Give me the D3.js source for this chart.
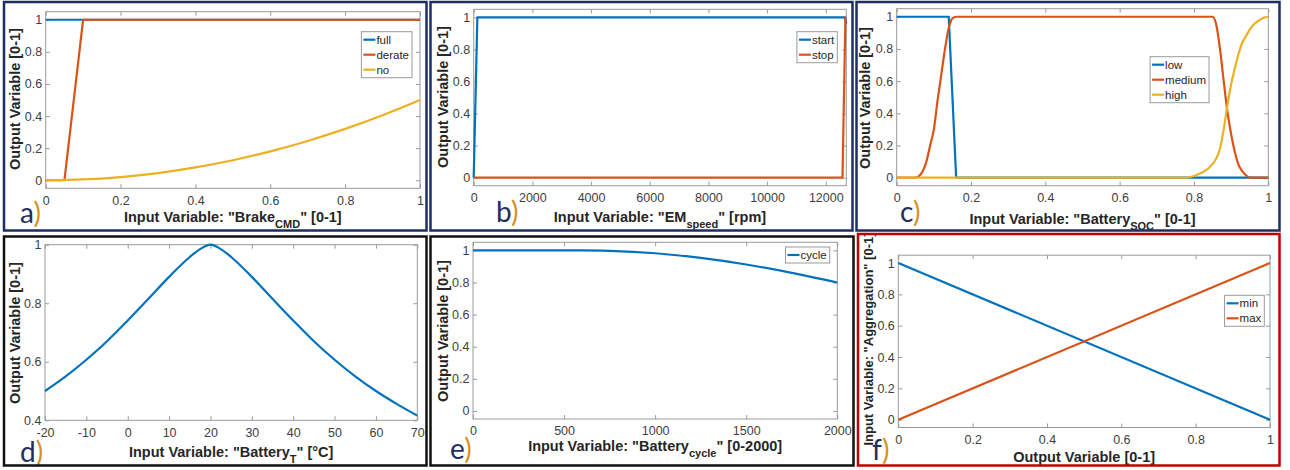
<!DOCTYPE html>
<html>
<head>
<meta charset="utf-8">
<script src="https://cdn.jsdelivr.net/npm/d3@7/dist/d3.min.js"></script>
<style>
  body { margin: 0; background: #fff; }
  svg { display: block; font-family: "Liberation Sans", Arial, sans-serif; }
</style>
</head>
<body>
<div id="chart"></div>
<script>
// a) brake command membership functions
var brakeFullX = [0, 1];
var brakeFullY = [1, 1];
var brakeDerateX = [0, 0.05, 0.1, 1];
var brakeDerateY = [0, 0, 1, 1];
var brakeNoX = [0, 0.1, 0.2, 0.3, 0.4, 0.5, 0.6, 0.7, 0.8, 0.9, 1];
var brakeNoY = [0, 0.005, 0.02, 0.045, 0.08, 0.125, 0.18, 0.245, 0.32, 0.405, 0.5];

// b) EM speed
var emStartX = [0, 125, 12650, 12700];
var emStartY = [0, 1, 1, 0.96];
var emStopX = [0, 12570, 12670, 12700];
var emStopY = [0, 0, 1, 1];

// c) battery SOC
var socLowX = [0, 0.14, 0.16, 1];
var socLowY = [1, 1, 0, 0];
var socMedX = [0, 0.05, 0.06, 0.07, 0.08, 0.09, 0.1, 0.11, 0.12, 0.13, 0.14, 0.15, 0.16, 0.85, 0.86, 0.87, 0.88, 0.89, 0.9, 0.91, 0.92, 0.93, 0.94, 0.95, 1];
var socMedY = [0, 0, 0.01, 0.04, 0.1, 0.2, 0.3, 0.48, 0.64, 0.8, 0.93, 0.99, 1, 1, 0.95, 0.8, 0.6, 0.41, 0.27, 0.16, 0.08, 0.04, 0.015, 0, 0];
var socHighX = [0, 0.78, 0.8, 0.82, 0.84, 0.86, 0.87, 0.88, 0.89, 0.9, 0.91, 0.92, 0.93, 0.94, 0.95, 0.96, 0.97, 0.98, 0.99, 1];
var socHighY = [0, 0, 0.01, 0.03, 0.06, 0.12, 0.18, 0.3, 0.45, 0.58, 0.68, 0.77, 0.84, 0.88, 0.92, 0.95, 0.97, 0.985, 0.995, 1];

// d) battery temperature
var tempX = [-20, -15, -10, -5, 0, 5, 10, 15, 17.5, 20, 22.5, 25, 30, 35, 40, 45, 50, 55, 60, 65, 70];
var tempY = [0.5, 0.55, 0.607, 0.67, 0.741, 0.815, 0.89, 0.958, 0.985, 1, 0.985, 0.958, 0.89, 0.815, 0.741, 0.67, 0.607, 0.55, 0.5, 0.456, 0.416];

// e) battery cycles
var cycleX = [0, 250, 500, 600, 750, 1000, 1250, 1500, 1750, 2000];
var cycleY = [1, 1, 1, 1, 0.997, 0.982, 0.953, 0.912, 0.86, 0.8];

// f) aggregation
var aggMinX = [0, 1];
var aggMinY = [1, 0];
var aggMaxX = [0, 1];
var aggMaxY = [0, 1];

// tick labels
var ticksUnit = [0, 0.2, 0.4, 0.6, 0.8, 1];
var ticksRpm = [0, 2000, 4000, 6000, 8000, 10000, 12000];
var ticksTemp = [-20, -10, 0, 10, 20, 30, 40, 50, 60, 70];
var ticksTempY = [0.4, 0.6, 0.8, 1];
var ticksCycle = [0, 500, 1000, 1500, 2000];

var BLUE = "#0072BD", ORANGE = "#D95319", YELLOW = "#EDB120";
var NAVY = "#1c2f60", BLACK = "#111", RED = "#c00000";

function zip(xs, ys) {
  return xs.map((x, i) => [x, ys[i]]);
}

var panels = [
  {
    letter: "a", frame: [4, 2, 426.5, 230.5], frameColor: NAVY,
    box: [45.7, 11.7, 420, 188.3], xDomain: [0, 1], yDomain: [-0.05, 1.05],
    xTicks: ticksUnit, yTicks: ticksUnit,
    xLabel: [{ t: 'Input Variable: "Brake' }, { t: "CMD", sub: true }, { t: '" [0-1]' }],
    yLabel: "Output Variable [0-1]", yLabelPos: [15, 99], xLabelY: 216.7, letterPos: [20, 223],
    legend: { right: 412, top: 31.7 },
    series: [
      { name: "full", color: BLUE, data: zip(brakeFullX, brakeFullY) },
      { name: "derate", color: ORANGE, data: zip(brakeDerateX, brakeDerateY) },
      { name: "no", color: YELLOW, data: zip(brakeNoX, brakeNoY), smooth: true },
    ],
  },
  {
    letter: "b", frame: [430.5, 2, 852.5, 230.5], frameColor: NAVY,
    box: [473.7, 9.3, 846.3, 185.7], xDomain: [0, 12700], yDomain: [-0.05, 1.05],
    xTicks: ticksRpm, yTicks: ticksUnit,
    xLabel: [{ t: 'Input Variable: "EM' }, { t: "speed", sub: true }, { t: '" [rpm]' }],
    yLabel: "Output Variable [0-1]", yLabelPos: [443, 97], xLabelY: 216.7, letterPos: [496, 222],
    legend: { right: 837.3, top: 31.7 },
    series: [
      { name: "start", color: BLUE, data: zip(emStartX, emStartY) },
      { name: "stop", color: ORANGE, data: zip(emStopX, emStopY) },
    ],
  },
  {
    letter: "c", frame: [856.5, 2, 1279.5, 230.5], frameColor: NAVY,
    box: [896.7, 8.7, 1268.3, 185.7], xDomain: [0, 1], yDomain: [-0.05, 1.05],
    xTicks: ticksUnit, yTicks: ticksUnit,
    xLabel: [{ t: 'Input Variable: "Battery' }, { t: "SOC", sub: true }, { t: '" [0-1]' }],
    yLabel: "Output Variable [0-1]", yLabelPos: [865, 98], xLabelY: 218.3, letterPos: [900, 222],
    legend: { right: 1209, top: 56.7 },
    series: [
      { name: "low", color: BLUE, data: zip(socLowX, socLowY) },
      { name: "medium", color: ORANGE, data: zip(socMedX, socMedY), smooth: true },
      { name: "high", color: YELLOW, data: zip(socHighX, socHighY), smooth: true },
    ],
  },
  {
    letter: "d", frame: [4, 236.5, 426.5, 465.5], frameColor: BLACK,
    box: [45, 244.7, 417.3, 420.3], xDomain: [-20, 70], yDomain: [0.4, 1],
    xTicks: ticksTemp, yTicks: ticksTempY,
    xLabel: [{ t: 'Input Variable: "Battery' }, { t: "T", sub: true }, { t: '" [°C]' }],
    yLabel: "Output Variable [0-1]", yLabelPos: [15, 333], xLabelY: 452, letterPos: [20, 461.5],
    legend: null,
    series: [{ name: "T", color: BLUE, data: zip(tempX, tempY), smooth: true }],
  },
  {
    letter: "e", frame: [430.5, 236.5, 853.5, 465.5], frameColor: BLACK,
    box: [473, 242.3, 837.3, 419], xDomain: [0, 2000], yDomain: [-0.05, 1.05],
    xTicks: ticksCycle, yTicks: ticksUnit,
    xLabel: [{ t: 'Input Variable: "Battery' }, { t: "cycle", sub: true }, { t: '" [0-2000]' }],
    yLabel: "Output Variable [0-1]", yLabelPos: [443, 331], xLabelY: 445.3, letterPos: [450, 459],
    legend: { right: 829.7, top: 247 },
    series: [{ name: "cycle", color: BLUE, data: zip(cycleX, cycleY), smooth: true }],
  },
  {
    letter: "f", frame: [858, 234, 1279.5, 465.5], frameColor: RED,
    box: [898.3, 255.2, 1270, 427.5], xDomain: [0, 1], yDomain: [-0.05, 1.05],
    xTicks: ticksUnit, yTicks: ticksUnit,
    xLabel: [{ t: "Output Variable [0-1]" }],
    yLabel: 'Input Variable: "Aggregation" [0-1]', yLabelSize: 13, yLabelPos: [868.3, 339], xLabelY: 457, letterPos: [872, 460],
    legend: { right: 1264.3, top: 295.3 },
    series: [
      { name: "min", color: BLUE, data: zip(aggMinX, aggMinY) },
      { name: "max", color: ORANGE, data: zip(aggMaxX, aggMaxY) },
    ],
  },
];

var svg = d3.select("#chart").append("svg").attr("width", 1290).attr("height", 470);

var AXIS_COLOR = "#9a9a9a";
var TEXT_COLOR = "#404040";

function styleAxis(sel) {
  sel.select(".domain").remove();
  sel.selectAll(".tick line").attr("stroke", AXIS_COLOR);
  sel.selectAll(".tick text").attr("fill", TEXT_COLOR).style("font-size", "12.5px").style("font-family", "inherit");
}

panels.forEach(function (p) {
  var g = svg.append("g").attr("class", "panel panel-" + p.letter);
  var [bx0, by0, bx1, by1] = p.box;

  var x = d3.scaleLinear().domain(p.xDomain).range([bx0, bx1]);
  var y = d3.scaleLinear().domain(p.yDomain).range([by1, by0]);

  // Axes with inward ticks on all four sides (MATLAB box style).
  g.append("g").attr("transform", `translate(0,${by1})`)
    .call(d3.axisBottom(x).tickValues(p.xTicks).tickSizeInner(-4).tickSizeOuter(0).tickPadding(7.5).tickFormat((d) => String(d)))
    .call(styleAxis);
  g.append("g").attr("transform", `translate(0,${by0})`)
    .call(d3.axisTop(x).tickValues(p.xTicks).tickSizeInner(-4).tickSizeOuter(0).tickFormat(""))
    .call(styleAxis);
  g.append("g").attr("transform", `translate(${bx0},0)`)
    .call(d3.axisLeft(y).tickValues(p.yTicks).tickSizeInner(-4).tickSizeOuter(0).tickPadding(3.5).tickFormat((d) => String(d)))
    .call(styleAxis);
  g.append("g").attr("transform", `translate(${bx1},0)`)
    .call(d3.axisRight(y).tickValues(p.yTicks).tickSizeInner(-4).tickSizeOuter(0).tickFormat(""))
    .call(styleAxis);

  g.append("rect")
    .attr("x", bx0).attr("y", by0).attr("width", bx1 - bx0).attr("height", by1 - by0)
    .attr("fill", "none").attr("stroke", AXIS_COLOR).attr("stroke-width", 1);

  // Series lines.
  p.series.forEach(function (s) {
    var line = d3.line()
      .x((d) => x(d[0]))
      .y((d) => y(d[1]))
      .curve(s.smooth ? d3.curveMonotoneX : d3.curveLinear);
    g.append("path")
      .attr("d", line(s.data))
      .attr("fill", "none")
      .attr("stroke", s.color)
      .attr("stroke-width", 2.2)
      .attr("stroke-linejoin", "round");
  });

  // Legend.
  if (p.legend) {
    var rowH = 15;
    var lg = g.append("g");
    var bg = lg.append("rect");
    var rows = lg.selectAll("g.row").data(p.series).enter().append("g").attr("class", "row");
    var texts = rows.append("text")
      .text((d) => d.name)
      .attr("fill", "#262626")
      .style("font-size", "11.5px")
      .attr("dy", "0.35em");
    var maxW = d3.max(texts.nodes(), (n) => n.getComputedTextLength());
    var w = 2 + 12 + 1 + maxW + 3;
    var left = p.legend.right - w;
    var h = rowH * p.series.length + 1;
    bg.attr("x", left).attr("y", p.legend.top).attr("width", w).attr("height", h)
      .attr("fill", "#fff").attr("stroke", AXIS_COLOR).attr("stroke-width", 1);
    rows.attr("transform", (d, i) => `translate(${left + 2},${p.legend.top + 8 + rowH * i})`);
    rows.append("line").attr("x1", 0).attr("x2", 12).attr("y1", 0).attr("y2", 0)
      .attr("stroke", (d) => d.color).attr("stroke-width", 2.2);
    texts.attr("x", 13);
  }

  // Axis labels.
  var xl = g.append("text")
    .attr("x", (bx0 + bx1) / 2)
    .attr("y", p.xLabelY + 5.2)
    .attr("text-anchor", "middle")
    .attr("fill", "#262626")
    .style("font-size", "14.5px")
    .style("font-weight", "bold");
  p.xLabel.forEach(function (part, i) {
    var prev = p.xLabel[i - 1];
    var ts = xl.append("tspan").text(part.t);
    if (part.sub) ts.attr("dy", 6).style("font-size", "11px");
    else if (prev && prev.sub) ts.attr("dy", -6);
  });

  var ys = p.yLabelSize || 14.5;
  g.append("text")
    .attr("transform", `translate(${p.yLabelPos[0] + ys * 0.36},${p.yLabelPos[1]}) rotate(-90)`)
    .attr("text-anchor", "middle")
    .attr("fill", "#262626")
    .style("font-size", ys + "px")
    .style("font-weight", "bold")
    .text(p.yLabel);

  // Panel letter.
  var lt = g.append("text")
    .attr("x", p.letterPos[0]).attr("y", p.letterPos[1])
    .style("font-family", "Lato, 'Open Sans', sans-serif")
    .style("font-size", "28px");
  lt.append("tspan").attr("fill", "#1f2f5f").text(p.letter);
  lt.append("tspan").attr("fill", "#d8901e").text(")");

  // Frame.
  var [fx0, fy0, fx1, fy1] = p.frame;
  g.append("rect")
    .attr("x", fx0).attr("y", fy0).attr("width", fx1 - fx0).attr("height", fy1 - fy0)
    .attr("fill", "none").attr("stroke", p.frameColor).attr("stroke-width", 2.5);
});
</script>
</body>
</html>
